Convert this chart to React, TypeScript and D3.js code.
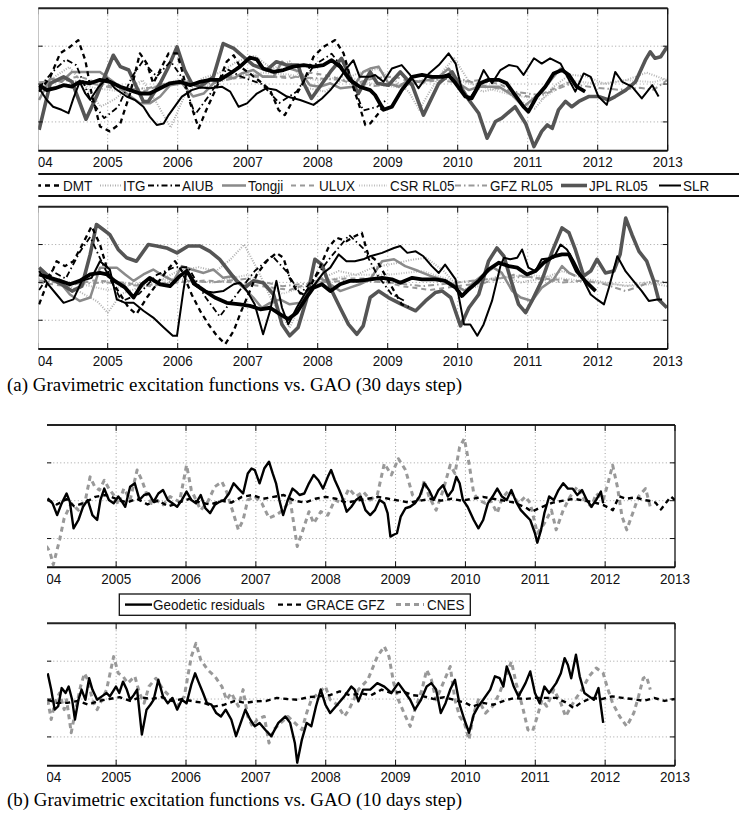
import React, { useEffect, useRef } from "react";
import * as d3 from "d3";

// time in years since 2004, values in plot units (grid at -10, 0, 10)
const T0 = 2004;
const YEARS = d3.range(2004, 2014);
const Y_TICKS = [-10, 0, 10];
const Y_DOMAIN = [-17.6, 20];

// ---------- (a) upper panel ----------
const a1Jpl = [[0.02,-12.1],[0.18,0.2],[0.37,1.9],[0.49,0.6],[0.69,-9.3],[0.84,-3.3],[1.08,7.6],[1.18,4.6],[1.30,3.7],[1.41,-0.7],[1.51,-4.6],[1.58,-4.6],[1.75,0.2],[1.87,4.6],[1.99,9.8],[2.10,3.7],[2.20,0.2],[2.32,-0.7],[2.51,1.9],[2.65,10.7],[2.80,9.4],[2.94,7.2],[3.08,5.0],[3.27,3.7],[3.41,5.9],[3.56,5.0],[3.72,5.0],[3.80,0.2],[3.91,-3.8],[4.03,-0.7],[4.18,3.2],[4.34,6.8],[4.46,1.9],[4.58,-2.5],[4.75,3.2],[4.85,0.2],[5.01,-0.3],[5.18,3.2],[5.35,-0.3],[5.51,-8.2],[5.73,0.2],[5.92,3.2],[6.01,0.2],[6.16,-4.2],[6.30,-7.7],[6.42,-14.3],[6.54,-9.9],[6.63,-9.0],[6.82,-6.0],[6.97,-10.4],[7.09,-16.5],[7.20,-12.5],[7.28,-10.8],[7.35,-11.7],[7.44,-6.8],[7.54,-4.6],[7.63,-6.0],[7.73,-4.6],[7.87,-3.3],[8.01,-3.3],[8.16,-4.2],[8.25,-3.3],[8.40,-1.6],[8.54,0.6],[8.68,6.3],[8.75,8.5],[8.82,6.8],[8.90,7.2],[8.99,9.8]];
const a1Slr = [[0.02,-1.1],[0.13,-4.2],[0.22,-6.0],[0.34,-6.8],[0.44,-7.7],[0.51,-3.8],[0.60,0.6],[0.68,-2.5],[0.75,-4.2],[0.87,-0.7],[0.99,1.5],[1.10,-1.1],[1.27,-3.3],[1.39,-4.2],[1.51,-6.0],[1.60,-8.6],[1.70,-10.8],[1.80,-10.4],[1.87,-8.2],[1.99,-5.1],[2.06,-3.3],[2.20,-1.6],[2.32,-0.9],[2.46,-1.1],[2.63,-0.7],[2.75,-2.0],[2.87,-6.0],[2.99,-5.1],[3.13,-2.5],[3.27,-1.1],[3.41,-1.6],[3.56,-3.3],[3.75,-4.2],[3.94,-5.5],[4.06,-3.8],[4.18,-1.6],[4.30,1.1],[4.41,4.1],[4.51,6.3],[4.60,1.9],[4.75,1.9],[4.82,2.4],[4.94,0.6],[5.06,4.1],[5.20,5.0],[5.32,2.4],[5.44,-1.1],[5.59,2.8],[5.73,5.0],[5.87,8.1],[5.97,5.4],[6.06,-1.6],[6.16,-4.2],[6.25,-1.6],[6.37,3.7],[6.49,0.2],[6.61,3.7],[6.73,5.0],[6.85,4.6],[6.94,2.4],[7.09,6.8],[7.20,5.4],[7.32,6.8],[7.47,5.4],[7.59,1.1],[7.68,-2.0],[7.80,2.8],[7.90,1.9],[8.01,-3.3],[8.13,-5.5],[8.25,3.2],[8.35,0.6],[8.49,-0.7],[8.63,-3.8],[8.78,-0.3],[8.87,-3.3]];
const a1Geodetic = [[0.02,-0.3],[0.13,-1.6],[0.25,-1.1],[0.37,-0.3],[0.49,-0.7],[0.60,0.6],[0.75,0.2],[0.89,1.1],[1.03,0.6],[1.18,-0.7],[1.32,-1.6],[1.46,-2.5],[1.60,-2.5],[1.75,-1.1],[1.89,0.2],[2.03,0.6],[2.18,-0.3],[2.32,0.6],[2.46,1.1],[2.60,1.1],[2.75,2.8],[2.89,4.6],[3.03,7.0],[3.13,6.5],[3.22,4.1],[3.37,3.2],[3.51,3.7],[3.65,4.6],[3.80,5.0],[3.94,4.6],[4.08,5.0],[4.20,6.3],[4.32,4.6],[4.46,1.1],[4.60,-0.7],[4.75,-1.6],[4.82,-2.9],[4.94,-6.8],[5.06,-6.0],[5.20,-1.6],[5.35,1.9],[5.49,2.4],[5.63,1.9],[5.78,1.9],[5.87,2.4],[5.97,0.2],[6.11,-3.3],[6.20,-3.8],[6.32,0.2],[6.44,1.1],[6.59,1.1],[6.70,0.2],[6.82,-2.9],[6.94,-6.0],[7.01,-7.3],[7.13,-3.3],[7.25,-0.7],[7.37,2.8],[7.49,3.7],[7.59,2.4],[7.70,-0.7],[7.82,-2.0]];
const a1Dmt = [[0.02,-2.0],[0.18,1.9],[0.32,8.1],[0.46,9.8],[0.58,11.6],[0.68,6.3],[0.77,-2.5],[0.89,-11.2],[1.03,-12.5],[1.18,-10.4],[1.32,-2.5],[1.46,8.1],[1.56,5.4],[1.65,0.2],[1.75,3.7],[1.87,8.1],[1.99,8.1],[2.06,3.7],[2.18,-5.1],[2.30,-11.7],[2.41,-6.8],[2.56,-0.7],[2.70,5.9],[2.80,7.6],[2.89,4.6],[3.03,2.8],[3.18,0.6],[3.32,-1.6],[3.44,-6.8],[3.53,-8.2],[3.65,-4.2],[3.80,0.6],[3.94,7.2],[4.08,9.8],[4.25,11.6],[4.37,8.1],[4.49,0.2],[4.60,-6.0],[4.68,-10.8],[4.75,-10.4],[4.85,-8.2],[4.95,-5.5]];
const a1Aiub = [[0.02,-1.0],[0.2,3.0],[0.4,6.5],[0.55,5.0],[0.75,-4.0],[0.95,-9.0],[1.15,-6.0],[1.35,2.0],[1.5,6.0],[1.7,2.0],[1.9,6.0],[2.05,2.0],[2.25,-8.0],[2.45,-3.0],[2.7,4.0],[2.9,2.0],[3.2,0.0],[3.45,-5.0],[3.7,-2.0],[3.95,5.0],[4.2,8.0],[4.45,2.0],[4.65,-7.0],[4.85,-6.0],[5.0,-4.0]];
const a1Itg = [[0.02,-2.0],[0.25,2.0],[0.45,4.5],[0.7,-1.0],[0.9,-6.0],[1.1,-4.0],[1.3,-1.0],[1.5,1.0],[1.7,-5.0],[1.9,-11.5],[2.1,-3.0],[2.35,1.5],[2.6,3.0],[2.85,6.0],[3.1,7.5],[3.35,4.0],[3.6,6.0],[3.85,-1.0],[4.1,-2.0],[4.35,1.0],[4.6,3.0],[4.85,4.0],[5.1,1.0],[5.3,-2.0],[5.45,-6.8],[5.6,-2.0],[5.8,3.7],[5.95,6.8],[6.15,1.0],[6.35,-2.0],[6.6,-1.0],[6.85,-4.0],[7.1,-6.5],[7.35,-1.0],[7.6,2.5],[7.85,2.0],[8.1,0.0],[8.4,1.0],[8.7,3.0],[8.99,1.0]];
const a1Tongji = [[0.02,-4.2],[0.18,1.5],[0.34,0.6],[0.49,3.2],[0.70,3.2],[0.89,3.2],[1.08,0.6],[1.27,-2.5],[1.46,-5.1],[1.60,-5.1],[1.75,-3.3],[1.89,-0.3],[2.06,0.2],[2.22,-3.3],[2.37,-2.5],[2.51,0.2],[2.68,1.9],[2.80,1.5],[2.91,2.8],[3.08,3.7],[3.22,1.9],[3.37,1.9],[3.49,5.9],[3.60,4.1],[3.75,3.2],[3.89,-0.3],[4.03,-0.7],[4.18,0.2],[4.32,-1.1],[4.51,-0.7],[4.65,3.2],[4.75,4.1],[4.87,4.6],[5.01,0.2],[5.16,-0.7],[5.30,1.1],[5.44,0.6],[5.59,1.1],[5.73,1.9],[5.87,4.1],[6.01,0.2],[6.16,-1.6],[6.30,-0.7],[6.44,-0.7],[6.59,-0.7],[6.78,-2.9],[6.94,-6.0],[7.06,-4.2],[7.20,-2.0],[7.35,1.5],[7.47,4.1],[7.59,1.9]];
const a1Ulux = [[0.02,-1],[0.3,1],[0.6,2],[0.9,0],[1.2,-1],[1.5,-2],[1.8,0],[2.1,1],[2.4,-1],[2.7,2],[3.0,2.5],[3.3,2],[3.6,1.5],[3.9,3],[4.2,2],[4.5,0],[4.8,1.5],[5.1,2],[5.4,0],[5.7,1],[6.0,0.5],[6.3,1],[6.6,0],[6.9,-3],[7.1,-3.5],[7.4,-1],[7.6,0.5]];
const a1Csr = [[0.02,0],[0.4,1.5],[0.8,-1],[1.2,-2],[1.6,-1],[2.0,1],[2.4,-0.5],[2.8,2],[3.2,3],[3.6,2.5],[4.0,1],[4.4,2],[4.8,0],[5.2,-1],[5.6,2],[6.0,1],[6.4,-1],[6.8,-3],[7.2,-4],[7.6,1],[8.0,0],[8.4,1],[8.8,0.5],[8.99,1.5]];
const a1Gfz = [[0.02,0.5],[0.4,1],[0.8,0],[1.2,-1.5],[1.6,-1],[2.0,0.5],[2.4,0],[2.8,1.5],[3.2,2],[3.6,2],[4.0,1.5],[4.4,1],[4.8,-0.5],[5.2,0],[5.6,1],[6.0,1.5],[6.4,-0.5],[6.8,-2],[7.2,-3],[7.6,0],[8.0,-1],[8.3,-1.5],[8.6,-1],[8.8,-1.5],[8.99,1.0]];

// ---------- (a) lower panel ----------
const a2Jpl = [[0.02,3.9],[0.18,1.2],[0.34,-0.5],[0.49,-2.3],[0.63,-1.0],[0.75,7.4],[0.84,15.3],[0.94,13.9],[1.03,12.6],[1.15,8.7],[1.27,6.5],[1.41,5.6],[1.58,10.0],[1.70,9.6],[1.84,9.1],[1.99,7.8],[2.15,9.6],[2.32,9.6],[2.46,8.2],[2.60,6.1],[2.75,2.5],[2.84,0.4],[2.96,-1.4],[3.08,0.4],[3.22,-0.1],[3.37,-3.2],[3.49,-11.1],[3.60,-14.1],[3.72,-11.9],[3.84,-4.5],[3.96,6.1],[4.06,4.7],[4.18,-1.4],[4.32,-6.7],[4.44,-11.1],[4.56,-13.7],[4.65,-11.5],[4.75,-4.0],[4.87,-2.3],[5.01,-4.0],[5.20,-5.8],[5.40,-7.5],[5.54,-4.9],[5.68,-2.7],[5.78,-2.3],[5.90,-4.0],[6.04,-11.5],[6.16,-6.7],[6.30,-3.2],[6.44,5.6],[6.56,9.1],[6.66,6.9],[6.75,1.2],[6.87,-5.8],[6.97,-8.0],[7.06,-4.9],[7.20,0.4],[7.35,8.2],[7.49,14.4],[7.59,13.1],[7.68,8.7],[7.80,1.7],[7.90,3.0],[7.99,6.1],[8.11,2.5],[8.23,3.0],[8.32,7.4],[8.40,17.0],[8.49,12.6],[8.59,8.2],[8.70,5.6],[8.80,0.4],[8.87,-4.5],[8.99,-6.7]];
const a2Slr = [[0.02,3.0],[0.15,-0.5],[0.27,-3.2],[0.37,-5.4],[0.51,-4.5],[0.63,0.4],[0.77,1.2],[0.89,5.6],[1.03,3.4],[1.13,-4.5],[1.25,-5.4],[1.37,-5.4],[1.51,-7.5],[1.65,-9.3],[1.80,-11.9],[1.93,-14.1],[1.99,-14.1],[2.08,-2.3],[2.13,3.4],[2.22,-0.5],[2.37,-2.3],[2.51,-2.7],[2.65,-2.3],[2.80,-0.5],[2.89,-0.1],[2.99,-2.3],[3.10,-5.8],[3.22,-13.7],[3.32,-7.5],[3.41,0.4],[3.49,-6.7],[3.58,-11.1],[3.70,-6.7],[3.84,-2.3],[3.96,-0.5],[4.08,2.5],[4.18,3.9],[4.30,7.4],[4.41,5.6],[4.53,5.6],[4.65,6.1],[4.75,6.9],[4.92,7.8],[5.09,9.1],[5.18,9.6],[5.28,7.8],[5.40,8.2],[5.51,6.9],[5.63,4.3],[5.73,2.5],[5.82,4.7],[5.97,0.8],[6.09,-11.1],[6.18,-11.1],[6.28,-14.1],[6.37,-11.1],[6.49,-4.9],[6.61,4.3],[6.66,6.5],[6.75,6.1],[6.85,6.5],[6.92,8.7],[7.01,3.9],[7.11,3.0],[7.20,6.1],[7.37,6.5],[7.47,10.0],[7.56,8.7],[7.66,5.6],[7.78,1.2],[7.90,-3.2],[7.99,-4.5],[8.09,-5.8],[8.16,-1.4],[8.28,6.9],[8.40,2.9],[8.51,0.4],[8.63,-2.3],[8.73,-4.9],[8.85,-4.5],[8.92,-4.5]];
const a2Geodetic = [[0.02,2.1],[0.18,1.2],[0.32,0.4],[0.46,-0.5],[0.60,0.4],[0.75,2.1],[0.89,2.5],[0.99,2.1],[1.10,0.4],[1.25,-1.4],[1.37,-4.0],[1.49,-0.5],[1.60,1.2],[1.75,-0.5],[1.89,-1.0],[2.03,1.7],[2.13,3.0],[2.25,-0.5],[2.39,-2.3],[2.53,-4.0],[2.70,-5.4],[2.89,-5.8],[3.03,-6.2],[3.18,-7.1],[3.32,-6.7],[3.46,-8.4],[3.58,-9.7],[3.70,-8.0],[3.82,-4.5],[3.94,-1.4],[4.06,-0.5],[4.18,-2.3],[4.32,-0.5],[4.46,0.4],[4.58,0.4],[4.75,0.8],[4.92,1.2],[5.06,0.8],[5.18,-0.1],[5.35,1.2],[5.49,0.8],[5.68,0.8],[5.82,0.4],[5.97,-1.4],[6.06,-3.6],[6.16,-1.8],[6.30,0.4],[6.44,3.4],[6.59,5.2],[6.73,4.3],[6.85,3.9],[6.99,2.1],[7.11,3.0],[7.23,5.2],[7.37,6.9],[7.49,7.4],[7.59,7.4],[7.70,3.0],[7.82,0.4],[7.97,-2.3]];
const a2Dmt = [[0.02,-5.8],[0.13,-0.5],[0.27,5.6],[0.39,4.3],[0.51,5.6],[0.65,10.4],[0.77,14.8],[0.89,10.0],[1.03,1.2],[1.18,-3.2],[1.30,-6.7],[1.41,-8.4],[1.56,-4.0],[1.70,-0.5],[1.84,3.0],[1.96,5.6],[2.06,3.0],[2.20,-3.2],[2.32,-7.5],[2.44,-11.1],[2.56,-14.1],[2.68,-16.3],[2.80,-12.8],[2.91,-7.5],[3.01,-3.2],[3.13,2.1],[3.27,5.6],[3.41,7.8],[3.51,6.5],[3.60,1.2],[3.70,-2.3],[3.80,-3.2],[3.91,-0.5],[4.03,3.9],[4.15,9.1],[4.27,11.8],[4.41,10.9],[4.53,12.2],[4.63,13.1],[4.72,7.4],[4.85,5.6],[5.01,0.4],[5.20,-5.8],[5.30,-6.5]];
const a2Aiub = [[0.02,-2],[0.2,3],[0.4,1],[0.6,8],[0.75,12],[0.95,4],[1.2,-5],[1.45,-3],[1.7,2],[1.95,4],[2.15,4],[2.4,-4],[2.6,-9],[2.85,-3],[3.1,3],[3.35,7],[3.55,3],[3.75,-3],[3.95,1],[4.2,7],[4.45,12.5],[4.65,9],[4.85,2],[5.05,-3],[5.25,-5]];
const a2Itg = [[0.02,0],[0.3,1],[0.55,-2],[0.85,-5],[1.0,-8],[1.2,-3],[1.5,-1],[1.8,1],[2.0,3],[2.3,4],[2.55,3],[2.75,6],[2.95,10],[3.15,3],[3.35,-5],[3.6,-12],[3.8,-4],[4.05,1],[4.3,3],[4.55,2],[4.8,4],[5.1,5],[5.35,6],[5.55,6.5],[5.8,3],[6.05,-2],[6.3,-1],[6.6,2],[6.9,0],[7.2,1],[7.5,3],[7.8,1],[8.1,0],[8.4,-1],[8.7,0],[8.99,-1]];
const a2Tongji = [[0.02,3.0],[0.18,0.8],[0.34,-0.5],[0.46,-3.2],[0.60,-4.9],[0.75,-4.0],[0.89,3.9],[1.01,3.9],[1.13,3.9],[1.25,2.1],[1.37,0.4],[1.51,2.1],[1.65,3.4],[1.80,1.7],[1.94,0.4],[2.06,4.3],[2.20,3.4],[2.37,2.5],[2.51,3.4],[2.65,1.2],[2.80,1.7],[2.94,-1.4],[3.08,-4.0],[3.20,-6.7],[3.32,-5.4],[3.46,-4.5],[3.60,-5.8],[3.75,-5.4],[3.89,-2.3],[4.03,1.2],[4.18,-0.5],[4.32,-2.3],[4.46,-1.4],[4.60,-0.5],[4.75,0.8],[4.92,5.6],[5.09,6.1],[5.25,4.3],[5.44,3.0],[5.61,1.7],[5.78,0.8],[5.94,-0.5],[6.11,-2.3],[6.25,0.4],[6.37,2.1],[6.51,3.9],[6.63,2.5],[6.78,-2.3],[6.90,-4.0],[7.06,-4.9],[7.20,-1.4],[7.37,0.8],[7.49,4.3],[7.59,2.5],[7.68,1.7]];
const a2Ulux = [[0.02,0],[0.4,-1],[0.8,0.5],[1.2,0],[1.6,-1],[2.0,0],[2.4,0.5],[2.8,0],[3.2,-1],[3.6,-2],[4.0,0.5],[4.4,1],[4.8,1],[5.2,-1],[5.6,-2],[6.0,-1],[6.4,0],[6.8,2],[7.2,1],[7.6,0.5]];
const a2Csr = [[0.02,1],[0.5,0],[1.0,-2],[1.5,0],[2.0,1],[2.5,0],[3.0,2],[3.5,-3],[4.0,0],[4.5,2],[5.0,2],[5.5,3],[6.0,0],[6.5,1],[7.0,2],[7.5,1],[8.0,0],[8.5,-1],[8.99,0]];
const a2Gfz = [[0.02,0.5],[0.5,-0.5],[1.0,0],[1.5,-1],[2.0,0.5],[2.5,0],[3.0,1],[3.5,-1],[4.0,0],[4.5,0.5],[5.0,0],[5.5,-1],[6.0,0],[6.5,1],[7.0,1.5],[7.5,0],[7.8,0.5],[8.1,-0.5],[8.4,-2.3],[8.6,-1],[8.8,0.5],[8.99,0]];

// ---------- (b) upper panel ----------
const b1Geodetic = [[0.02,0.6],[0.09,-0.7],[0.155,-3.8],[0.22,-0.7],[0.29,1.9],[0.337,-0.3],[0.39,-7.3],[0.46,-5.1],[0.526,-1.6],[0.593,0.2],[0.66,-3.8],[0.728,-5.1],[0.775,0.2],[0.83,3.2],[0.896,0.2],[0.964,-0.7],[1.031,1.1],[1.085,-0.3],[1.13,-1.6],[1.20,3.7],[1.267,4.6],[1.334,0.2],[1.40,1.5],[1.469,1.9],[1.536,-0.3],[1.604,1.9],[1.671,2.8],[1.739,0.2],[1.806,-0.7],[1.873,-1.6],[1.941,0.2],[2.008,2.4],[2.076,0.2],[2.143,-0.7],[2.21,1.5],[2.278,-2.0],[2.345,-3.3],[2.413,-1.1],[2.48,-0.3],[2.547,0.2],[2.615,1.9],[2.682,4.6],[2.75,3.2],[2.817,1.9],[2.884,7.2],[2.938,8.5],[2.985,8.1],[3.053,4.6],[3.12,8.5],[3.188,10.3],[3.241,7.2],[3.289,4.6],[3.336,0.2],[3.39,-3.8],[3.457,0.2],[3.525,3.2],[3.578,2.4],[3.626,1.5],[3.693,1.9],[3.76,4.6],[3.828,6.8],[3.895,5.4],[3.962,3.2],[4.03,6.3],[4.077,8.1],[4.131,5.4],[4.185,3.2],[4.232,1.1],[4.30,-2.9],[4.367,-1.6],[4.434,0.2],[4.502,1.1],[4.569,-2.5],[4.637,-3.8],[4.704,-2.5],[4.771,0.2],[4.839,-0.7],[4.886,-3.3],[4.926,-9.5],[4.973,-9.0],[5.02,-8.6],[5.074,-4.2],[5.142,-2.0],[5.209,-1.6],[5.277,-0.7],[5.344,1.1],[5.411,4.6],[5.479,2.8],[5.546,0.2],[5.614,2.8],[5.681,4.1],[5.748,1.1],[5.816,2.8],[5.87,6.3],[5.917,4.6],[5.964,0.2],[6.031,-1.6],[6.119,-5.1],[6.186,-7.3],[6.254,-5.1],[6.321,-0.7],[6.389,1.1],[6.456,3.2],[6.523,1.1],[6.591,0.2],[6.658,2.8],[6.726,-0.3],[6.793,-2.5],[6.86,-3.8],[6.928,-5.1],[6.995,-8.6],[7.029,-11.1],[7.083,-7.7],[7.13,-3.3],[7.198,1.1],[7.265,0.2],[7.332,2.8],[7.40,4.6],[7.467,3.2],[7.535,3.2],[7.602,1.5],[7.669,2.8],[7.737,0.2],[7.804,-1.6],[7.872,0.2],[7.939,2.4],[7.972,-0.7]];
const b1Gfz = [[0.02,0.2],[0.15,-1.0],[0.29,0.4],[0.4,-1.5],[0.55,-0.5],[0.7,1.0],[0.85,1.5],[1.0,0.5],[1.15,-0.5],[1.3,0.5],[1.45,-1.0],[1.6,0.0],[1.75,-1.5],[1.9,-0.5],[2.05,0.5],[2.2,-0.5],[2.35,-1.0],[2.5,0.0],[2.65,-0.5],[2.8,1.0],[2.95,1.5],[3.1,0.5],[3.25,1.0],[3.4,1.5],[3.55,0.0],[3.7,-0.5],[3.85,0.5],[4.0,1.0],[4.15,0.5],[4.3,-0.5],[4.45,0.0],[4.6,0.5],[4.75,1.0],[4.9,0.5],[5.05,0.0],[5.2,-0.5],[5.35,0.0],[5.5,0.5],[5.65,0.0],[5.8,0.5],[5.95,0.0],[6.1,0.5],[6.25,1.0],[6.4,0.5],[6.55,0.0],[6.7,-0.5],[6.88,-2.0],[6.95,-2.9],[7.05,-2.0],[7.25,-0.5],[7.4,0.0],[7.55,0.5],[7.7,0.0],[7.85,-0.5],[7.97,-1.1],[8.11,-2.5],[8.2,1.2],[8.3,0.5],[8.44,0.9],[8.55,0.2],[8.63,0.0],[8.72,-0.5],[8.8,-2.3],[8.94,1.1],[8.997,0.2]];
const b1Cnes = [[0.0,-12.0],[0.05,-13.4],[0.10,-16.9],[0.19,-10.4],[0.256,-4.6],[0.357,-0.7],[0.46,-2.5],[0.56,0.2],[0.627,6.3],[0.694,3.7],[0.76,2.8],[0.83,5.4],[0.896,3.2],[0.964,1.5],[1.031,-1.1],[1.11,3.2],[1.20,0.2],[1.30,8.1],[1.368,5.4],[1.435,1.9],[1.503,-0.7],[1.57,0.2],[1.671,-1.1],[1.772,1.1],[1.907,-0.3],[2.008,9.4],[2.076,2.8],[2.143,0.2],[2.21,-2.5],[2.311,-0.3],[2.413,3.7],[2.514,5.0],[2.58,2.4],[2.648,-1.6],[2.75,-7.7],[2.817,-5.1],[2.884,0.2],[2.985,1.1],[3.086,-0.7],[3.188,-4.6],[3.289,-3.8],[3.39,-2.5],[3.491,0.2],[3.592,-12.1],[3.659,-8.6],[3.76,-2.9],[3.828,-6.0],[3.929,-2.9],[4.03,-3.8],[4.131,0.2],[4.232,-0.7],[4.333,3.2],[4.434,1.1],[4.535,2.4],[4.637,0.2],[4.738,1.5],[4.839,9.8],[4.94,6.8],[5.04,11.1],[5.142,8.1],[5.243,1.5],[5.344,0.2],[5.411,5.4],[5.479,1.1],[5.58,-2.5],[5.681,2.8],[5.782,9.4],[5.85,7.2],[5.917,14.2],[5.984,16.4],[6.052,9.8],[6.119,1.9],[6.186,0.2],[6.287,-0.7],[6.355,0.2],[6.456,-3.3],[6.523,0.6],[6.624,2.8],[6.692,1.1],[6.759,-0.7],[6.86,1.1],[6.928,-0.7],[7.029,-8.6],[7.13,-6.0],[7.231,-2.5],[7.299,-7.7],[7.40,-2.5],[7.50,1.1],[7.602,3.7],[7.703,0.2],[7.804,-1.6],[7.872,1.9],[7.972,0.2],[8.04,4.6],[8.107,9.4],[8.175,3.7],[8.242,-4.2],[8.309,-7.7],[8.41,-2.5],[8.478,1.1],[8.579,3.2],[8.646,-1.6]];

// ---------- (b) lower panel ----------
const b2Geodetic = [[0.02,6.8],[0.07,2.5],[0.12,-2.8],[0.17,-1.9],[0.22,2.9],[0.276,1.6],[0.32,3.3],[0.37,-0.2],[0.41,-5.4],[0.46,-0.2],[0.505,2.5],[0.56,-0.2],[0.613,5.5],[0.66,2.5],[0.728,-0.2],[0.795,0.7],[0.863,1.6],[0.91,0.7],[0.997,3.3],[1.045,1.6],[1.098,4.6],[1.152,2.5],[1.20,-0.2],[1.253,1.1],[1.30,2.5],[1.368,-9.4],[1.435,-2.8],[1.49,-1.5],[1.536,-0.2],[1.604,5.1],[1.671,0.7],[1.739,-1.1],[1.806,0.3],[1.873,-2.8],[1.941,-0.2],[2.008,-1.1],[2.076,3.8],[2.13,6.8],[2.177,4.6],[2.244,1.6],[2.30,-1.1],[2.365,-1.5],[2.433,-3.7],[2.50,-4.6],[2.568,-2.8],[2.648,-5.4],[2.716,-9.8],[2.783,-6.3],[2.85,-2.8],[2.918,-5.4],[2.985,-7.2],[3.053,-6.3],[3.134,-8.1],[3.221,-9.8],[3.322,-6.3],[3.423,-4.6],[3.491,-6.3],[3.558,-11.6],[3.592,-16.8],[3.659,-10.7],[3.727,-6.3],[3.794,-7.2],[3.861,-1.9],[3.929,2.5],[3.996,-1.5],[4.064,-3.7],[4.165,-1.5],[4.266,0.7],[4.367,3.3],[4.414,2.5],[4.468,-0.6],[4.535,2.5],[4.637,2.5],[4.738,4.2],[4.839,3.3],[4.94,1.6],[5.04,4.2],[5.142,1.6],[5.209,-0.2],[5.277,-2.8],[5.364,-0.2],[5.445,3.3],[5.512,4.2],[5.58,2.5],[5.647,-3.7],[5.715,-1.1],[5.782,2.5],[5.85,5.1],[5.917,-1.5],[5.984,-5.4],[6.052,-8.9],[6.119,-4.1],[6.186,-1.9],[6.254,-0.2],[6.355,2.5],[6.422,6.0],[6.49,5.5],[6.543,3.3],[6.591,8.6],[6.645,6.0],[6.692,3.3],[6.759,0.7],[6.86,4.2],[6.928,7.3],[6.995,1.6],[7.063,-1.1],[7.13,3.3],[7.198,1.6],[7.299,4.2],[7.366,6.8],[7.42,10.8],[7.467,9.0],[7.514,5.5],[7.582,11.7],[7.636,6.0],[7.703,1.6],[7.77,0.7],[7.838,-0.2],[7.905,2.9],[7.972,-6.3]];
const b2Gfz = [[0.02,-0.2],[0.15,-1.0],[0.3,-1.0],[0.45,-0.5],[0.6,-1.5],[0.75,-0.5],[0.9,0.0],[1.05,0.5],[1.2,-0.5],[1.35,0.5],[1.5,0.0],[1.65,0.5],[1.8,-0.5],[1.95,0.0],[2.1,-0.6],[2.25,-1.0],[2.4,-2.0],[2.55,-1.5],[2.7,-0.5],[2.85,-1.0],[3.0,-0.6],[3.15,-0.5],[3.3,0.3],[3.45,0.0],[3.6,-0.2],[3.75,0.5],[3.9,0.7],[4.05,1.0],[4.2,2.0],[4.35,1.0],[4.5,1.5],[4.65,1.0],[4.8,2.5],[4.95,1.5],[5.1,2.0],[5.25,1.0],[5.4,0.7],[5.55,0.0],[5.7,0.5],[5.85,-0.3],[6.0,-1.0],[6.1,-2.0],[6.25,-1.0],[6.4,-1.5],[6.55,-0.5],[6.7,0.3],[6.85,0.0],[7.0,0.3],[7.15,0.3],[7.3,0.3],[7.45,-1.0],[7.55,-2.4],[7.65,-1.0],[7.8,0.3],[7.95,0.0],[8.1,0.7],[8.25,0.3],[8.4,0.0],[8.55,-0.5],[8.7,0.3],[8.85,-0.5],[8.997,0.0]];
const b2Cnes = [[0.02,-0.2],[0.07,-5.4],[0.12,-1.1],[0.19,1.6],[0.256,-2.8],[0.29,-0.2],[0.357,-8.9],[0.42,-2.8],[0.49,3.3],[0.546,6.8],[0.593,5.1],[0.66,-0.2],[0.728,-2.8],[0.795,-0.2],[0.863,2.5],[0.964,11.2],[1.031,6.8],[1.098,6.0],[1.166,4.2],[1.267,6.0],[1.334,1.6],[1.40,-1.1],[1.469,3.3],[1.57,5.5],[1.671,2.5],[1.772,0.7],[1.873,-1.9],[1.975,0.7],[2.076,11.2],[2.143,14.7],[2.21,10.4],[2.311,7.7],[2.413,6.0],[2.514,3.3],[2.58,-0.2],[2.648,1.6],[2.75,-1.9],[2.817,2.5],[2.884,-4.6],[2.952,-7.2],[3.019,-5.4],[3.12,-4.6],[3.188,-11.6],[3.255,-8.1],[3.356,-6.3],[3.457,-4.6],[3.558,-6.3],[3.659,-8.1],[3.727,-3.7],[3.794,-0.2],[3.895,1.6],[3.996,3.3],[4.064,-0.2],[4.165,-1.5],[4.266,-4.6],[4.333,-2.8],[4.468,2.5],[4.603,5.1],[4.738,11.2],[4.839,13.9],[4.906,11.2],[4.973,4.2],[5.04,-0.2],[5.142,-4.6],[5.209,-7.2],[5.277,-2.8],[5.378,2.5],[5.445,7.7],[5.512,5.1],[5.58,-0.2],[5.681,4.2],[5.782,8.6],[5.85,-0.2],[5.917,-4.6],[5.984,-6.3],[6.052,-10.7],[6.119,-3.7],[6.186,-0.2],[6.287,-3.7],[6.389,-1.9],[6.49,1.6],[6.591,6.8],[6.658,9.9],[6.726,4.2],[6.827,-2.8],[6.894,-8.1],[6.961,-8.5],[7.029,-4.6],[7.096,-0.2],[7.164,-1.9],[7.265,2.5],[7.366,-1.1],[7.434,-4.6],[7.50,-2.4],[7.568,-0.2],[7.669,2.5],[7.77,6.0],[7.872,8.2],[7.972,6.8],[8.04,2.5],[8.107,-1.1],[8.208,-4.6],[8.309,-7.2],[8.41,-3.7],[8.478,0.7],[8.545,5.5],[8.592,6.0],[8.646,2.5]];

const A_LEGEND = ["DMT", "ITG", "AIUB", "Tongji", "ULUX", "CSR RL05", "GFZ RL05", "JPL RL05", "SLR"];
const B_LEGEND = ["Geodetic residuals", "GRACE GFZ", "CNES"];
const CAPTION_A = "(a) Gravimetric excitation functions vs. GAO (30 days step)";
const CAPTION_B = "(b) Gravimetric excitation functions vs. GAO (10 days step)";

const STYLE = {
  geodetic: { stroke: "#000", width: 3.8, dash: null },
  dmt: { stroke: "#000", width: 2.3, dash: "5,4" },
  itg: { stroke: "#b0b0b0", width: 2, dash: "1,1.5" },
  aiub: { stroke: "#000", width: 1.8, dash: "6,3,1.5,3" },
  tongji: { stroke: "#8a8a8a", width: 2.5, dash: null },
  ulux: { stroke: "#999", width: 2, dash: "5,4" },
  csr: { stroke: "#c0c0c0", width: 2, dash: "1,1.5" },
  gfz: { stroke: "#999", width: 2, dash: "6,3,1.5,3" },
  jpl: { stroke: "#555", width: 3.6, dash: null },
  slr: { stroke: "#000", width: 2, dash: null },
  bGeodetic: { stroke: "#000", width: 2.4, dash: null },
  bGfz: { stroke: "#000", width: 2.4, dash: "5,4" },
  bCnes: { stroke: "#999", width: 3, dash: "5,4" },
};

const FONT = "'Liberation Sans', Arial, sans-serif";
const SERIF = "'Liberation Serif', 'DejaVu Serif', serif";

// sans text, slightly stretched vertically like the original raster
const label = (sel, x, y, txt, anchor) =>
  sel.append("text").attr("transform", `translate(${x},${y}) scale(1,1.1)`)
    .attr("text-anchor", anchor || "start").attr("font-family", FONT)
    .attr("font-size", 13.5).attr("fill", "#111").text(txt);

const drawPanel = (root, p, series) => {
  const x = d3.scaleLinear([2004, 2013], [p.x0, p.x1]);
  const y = d3.scaleLinear(Y_DOMAIN, [p.bottom, p.top]);
  const g = root.append("g");
  const grid = { stroke: "#8a8a8a", "stroke-width": 0.8, "stroke-dasharray": "1,2.5" };

  const vg = g.selectAll(null).data(YEARS.slice(1, -1)).join("line")
    .attr("x1", d => x(d)).attr("x2", d => x(d)).attr("y1", p.top).attr("y2", p.bottom);
  const hg = g.selectAll(null).data(Y_TICKS).join("line")
    .attr("x1", p.x0).attr("x2", p.x1).attr("y1", d => y(d)).attr("y2", d => y(d));
  for (const k of Object.keys(grid)) { vg.attr(k, grid[k]); hg.attr(k, grid[k]); }

  const clipId = "clip-" + p.id;
  root.append("clipPath").attr("id", clipId).append("rect")
    .attr("x", p.x0).attr("y", p.top).attr("width", p.x1 - p.x0).attr("height", p.bottom - p.top);

  const line = d3.line().x(d => x(T0 + d[0])).y(d => y(d[1]));
  for (const s of series) {
    const st = STYLE[s.style];
    g.append("path").attr("d", line(s.data)).attr("fill", "none")
      .attr("stroke", st.stroke).attr("stroke-width", st.width)
      .attr("stroke-dasharray", st.dash).attr("stroke-linejoin", "round")
      .attr("clip-path", `url(#${clipId})`);
  }

  // frame and ticks
  g.append("line").attr("x1", p.x0).attr("x2", p.x1).attr("y1", p.top).attr("y2", p.top)
    .attr("stroke", "#222").attr("stroke-width", 2);
  g.append("line").attr("x1", p.x0).attr("x2", p.x1).attr("y1", p.bottom).attr("y2", p.bottom)
    .attr("stroke", "#111").attr("stroke-width", 2);
  g.append("line").attr("x1", p.x1).attr("x2", p.x1).attr("y1", p.top).attr("y2", p.bottom)
    .attr("stroke", "#111").attr("stroke-width", 1.3);
  g.append("line").attr("x1", p.x0).attr("x2", p.x0).attr("y1", p.top).attr("y2", p.bottom)
    .attr("stroke", "#111").attr("stroke-width", 1.3);
  g.selectAll(null).data(YEARS).join("path")
    .attr("d", d => `M${x(d)},${p.bottom}v-6M${x(d)},${p.top}v6`)
    .attr("stroke", "#111").attr("stroke-width", 1);
  g.selectAll(null).data(Y_TICKS).join("path")
    .attr("d", d => `M${p.x1},${y(d)}h-5M${p.x0},${y(d)}h5`)
    .attr("stroke", "#111").attr("stroke-width", 1);

  for (const yr of YEARS) label(g, x(yr), p.bottom + 16.5, yr, "middle");
};

const App = () => {
  const ref = useRef(null);

  useEffect(() => {
    const svg = d3.select(ref.current);
    svg.selectAll("*").remove();

    // ----- part (a), left side cropped in the original figure
    svg.append("clipPath").attr("id", "cropA").append("rect")
      .attr("x", 38.3).attr("y", 0).attr("width", 739).attr("height", 400);
    const ga = svg.append("g").attr("clip-path", "url(#cropA)");

    drawPanel(ga, { id: "a1", x0: 37.7, x1: 667.7, top: 8.3, bottom: 150.7 }, [
      { style: "csr", data: a1Csr }, { style: "itg", data: a1Itg }, { style: "gfz", data: a1Gfz },
      { style: "ulux", data: a1Ulux }, { style: "tongji", data: a1Tongji }, { style: "jpl", data: a1Jpl },
      { style: "aiub", data: a1Aiub }, { style: "dmt", data: a1Dmt }, { style: "slr", data: a1Slr },
      { style: "geodetic", data: a1Geodetic },
    ]);

    // legend strip of (a)
    const legY = 185.5;
    ga.append("line").attr("x1", 0).attr("x2", 739).attr("y1", 174).attr("y2", 174).attr("stroke", "#111").attr("stroke-width", 2);
    ga.append("line").attr("x1", 0).attr("x2", 739).attr("y1", 196).attr("y2", 196).attr("stroke", "#111").attr("stroke-width", 2);
    const legA = [
      { style: "dmt", x1: 36, x2: 61, tx: 63 },
      { style: "itg", x1: 100, x2: 121, tx: 123 },
      { style: "aiub", x1: 148, x2: 180, tx: 182 },
      { style: "tongji", x1: 222, x2: 246, tx: 248 },
      { style: "ulux", x1: 291, x2: 317, tx: 319 },
      { style: "csr", x1: 359, x2: 387, tx: 390 },
      { style: "gfz", x1: 455, x2: 487, tx: 490 },
      { style: "jpl", x1: 561, x2: 587, tx: 589 },
      { style: "slr", x1: 659, x2: 681, tx: 683 },
    ];
    legA.forEach((l, i) => {
      const st = STYLE[l.style];
      ga.append("line").attr("x1", l.x1).attr("x2", l.x2).attr("y1", legY).attr("y2", legY)
        .attr("stroke", st.stroke).attr("stroke-width", st.width).attr("stroke-dasharray", st.dash);
      label(ga, l.tx, legY + 5, A_LEGEND[i]);
    });

    drawPanel(ga, { id: "a2", x0: 37.7, x1: 667.7, top: 206.7, bottom: 349 }, [
      { style: "csr", data: a2Csr }, { style: "itg", data: a2Itg }, { style: "gfz", data: a2Gfz },
      { style: "ulux", data: a2Ulux }, { style: "tongji", data: a2Tongji }, { style: "jpl", data: a2Jpl },
      { style: "aiub", data: a2Aiub }, { style: "dmt", data: a2Dmt }, { style: "slr", data: a2Slr },
      { style: "geodetic", data: a2Geodetic },
    ]);

    svg.append("text").attr("x", 7).attr("y", 391).attr("font-family", SERIF).attr("font-size", 18.5)
      .attr("textLength", 455).attr("lengthAdjust", "spacingAndGlyphs").text(CAPTION_A);

    // ----- part (b)
    svg.append("clipPath").attr("id", "cropB").append("rect")
      .attr("x", 47).attr("y", 400).attr("width", 739).attr("height", 400);
    const gb = svg.append("g").attr("clip-path", "url(#cropB)");
    drawPanel(gb, { id: "b1", x0: 46.3, x1: 675, top: 425, bottom: 567.3 }, [
      { style: "bCnes", data: b1Cnes }, { style: "bGeodetic", data: b1Geodetic }, { style: "bGfz", data: b1Gfz },
    ]);

    const lb = gb.append("g");
    lb.append("rect").attr("x", 119.3).attr("y", 594).attr("width", 351).attr("height", 21.3)
      .attr("fill", "#fff").attr("stroke", "#111").attr("stroke-width", 1.3);
    const legB = [
      { style: "bGeodetic", x1: 125, x2: 152, tx: 153 },
      { style: "bGfz", x1: 278, x2: 304, tx: 306 },
      { style: "bCnes", x1: 396, x2: 424, tx: 427 },
    ];
    legB.forEach((l, i) => {
      const st = STYLE[l.style];
      lb.append("line").attr("x1", l.x1).attr("x2", l.x2).attr("y1", 604.6).attr("y2", 604.6)
        .attr("stroke", st.stroke).attr("stroke-width", st.width).attr("stroke-dasharray", st.dash);
      label(lb, l.tx, 609.5, B_LEGEND[i]);
    });

    drawPanel(gb, { id: "b2", x0: 46.3, x1: 675, top: 623.3, bottom: 765.7 }, [
      { style: "bCnes", data: b2Cnes }, { style: "bGeodetic", data: b2Geodetic }, { style: "bGfz", data: b2Gfz },
    ]);

    svg.append("text").attr("x", 7).attr("y", 806).attr("font-family", SERIF).attr("font-size", 18.5)
      .attr("textLength", 455).attr("lengthAdjust", "spacingAndGlyphs").text(CAPTION_B);
  }, []);

  return (
    <div style={{ position: "absolute", left: 0, top: 0 }}>
      <svg ref={ref} width={739} height={821} style={{ display: "block", background: "#fff" }} />
    </div>
  );
};

export default App;
